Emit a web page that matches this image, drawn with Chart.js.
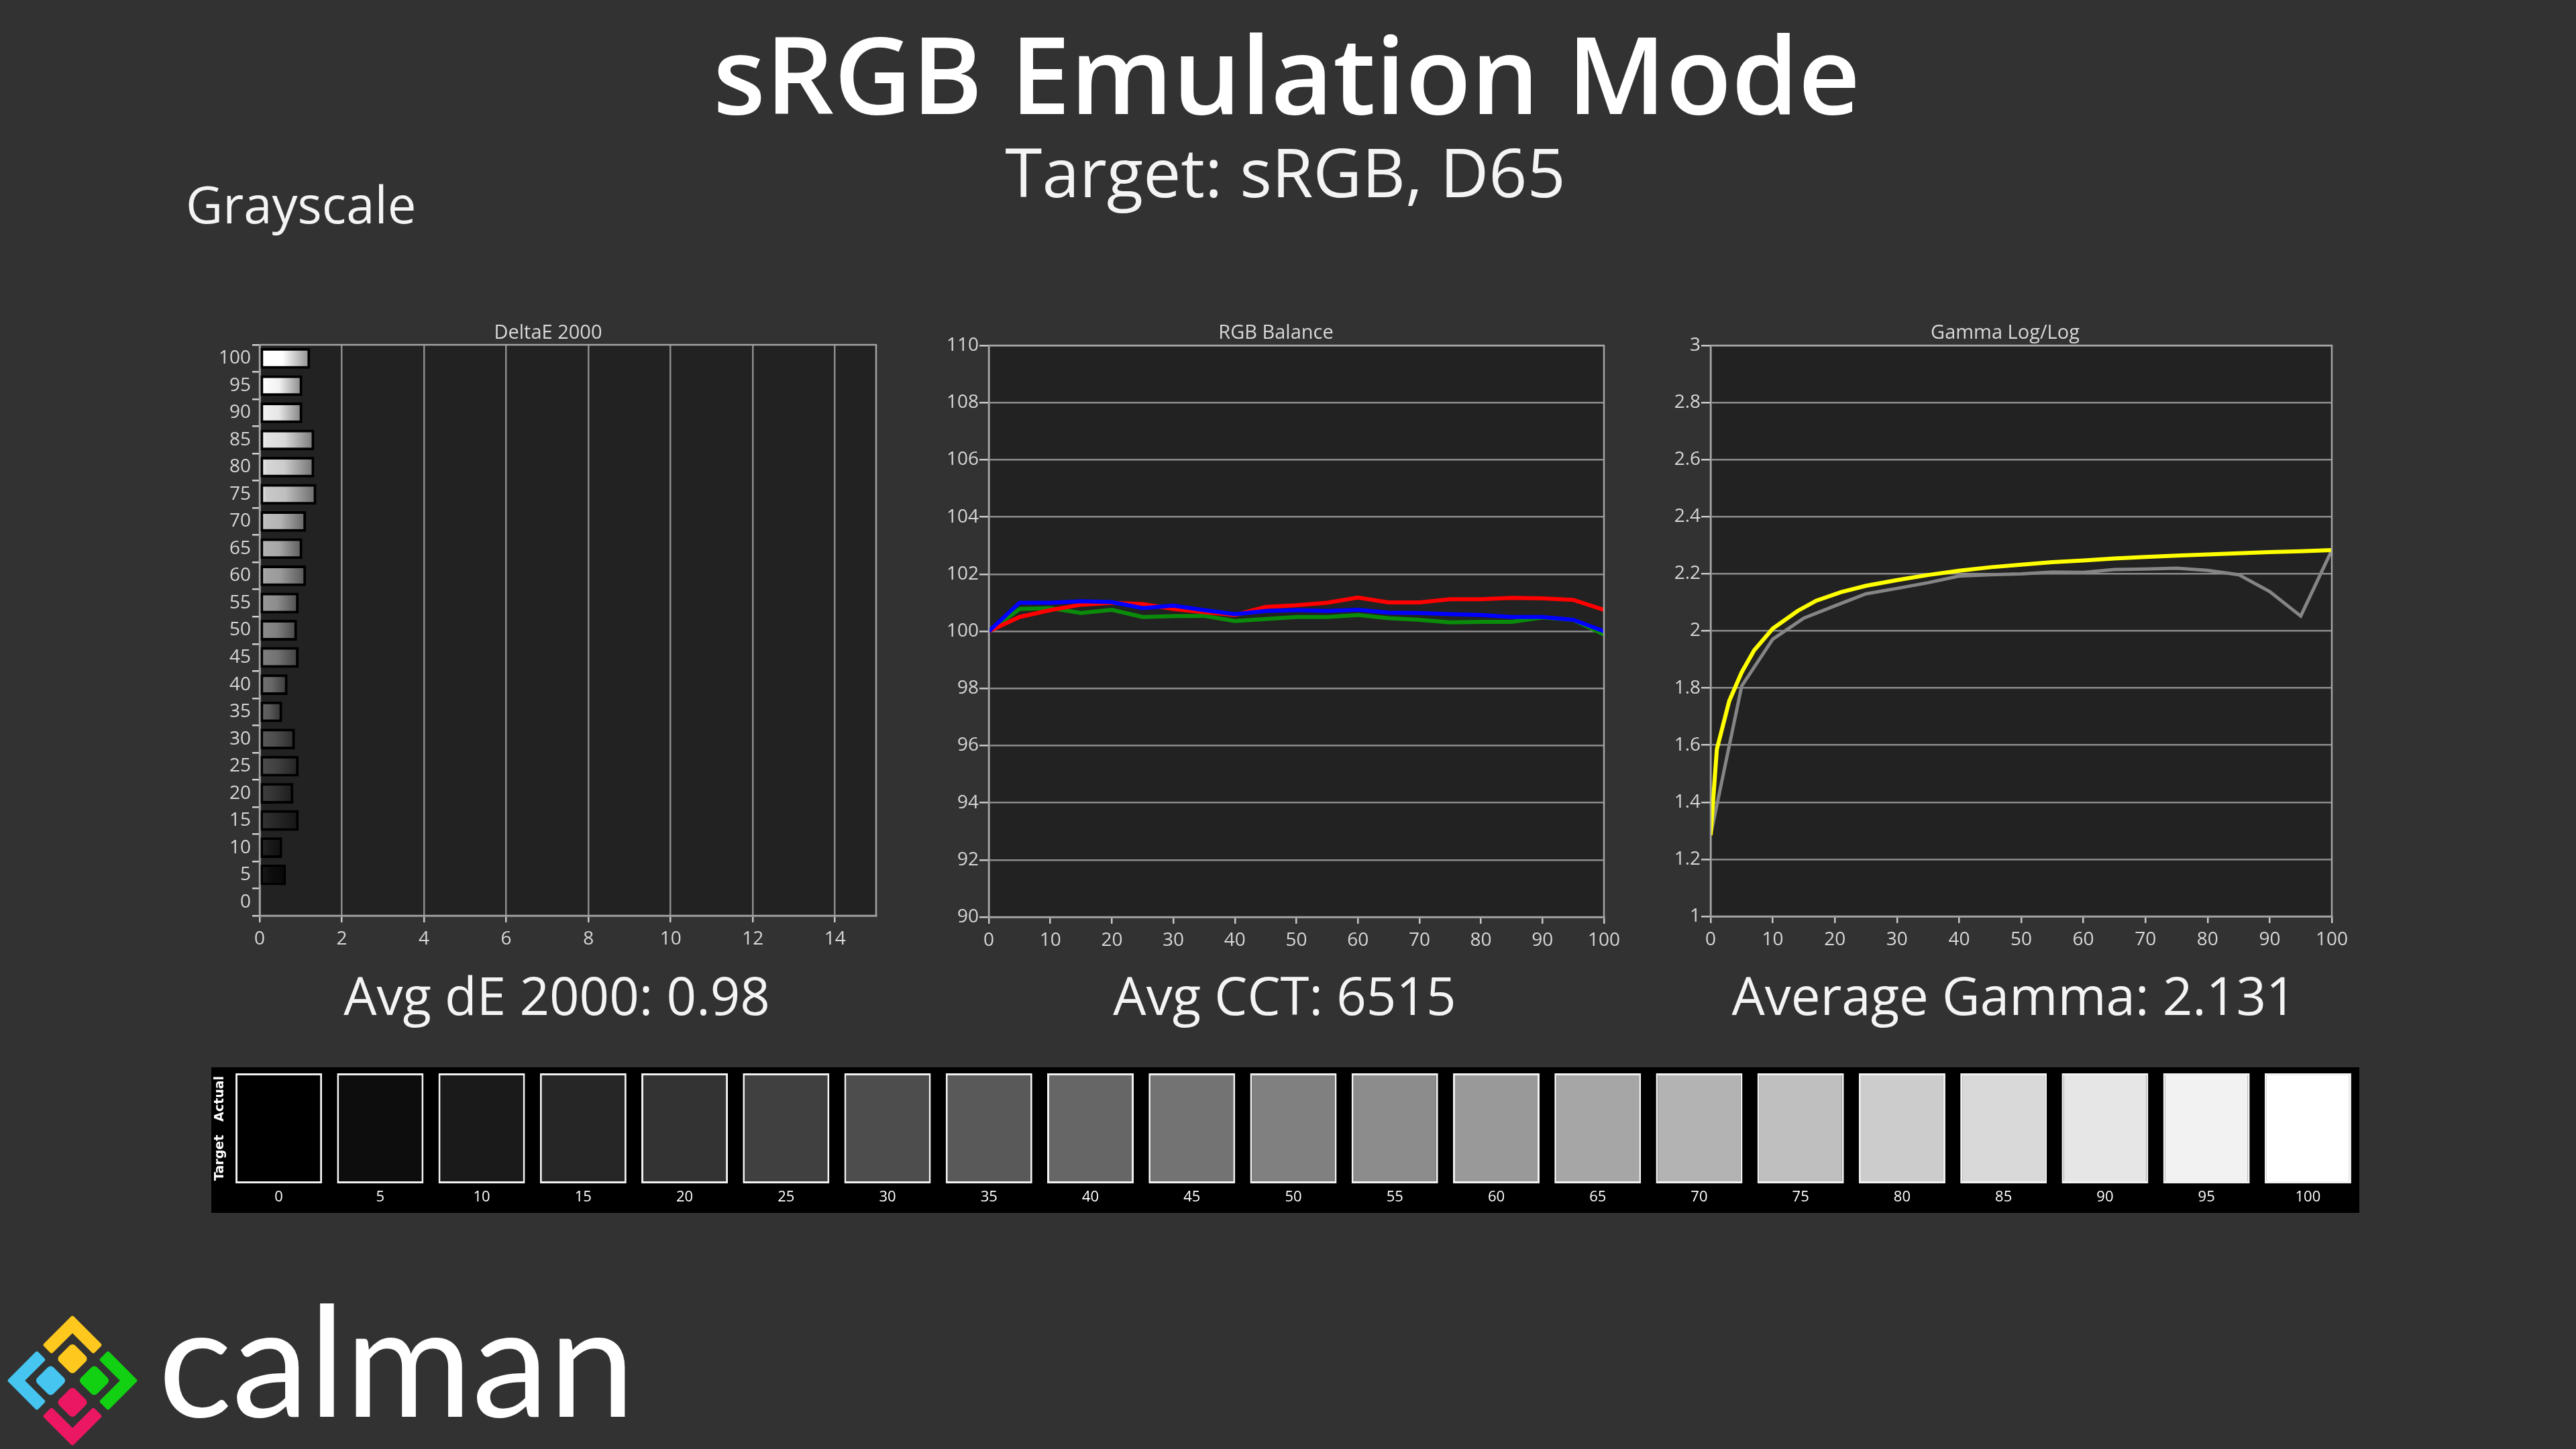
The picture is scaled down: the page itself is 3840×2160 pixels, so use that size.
<!DOCTYPE html>
<html>
<head>
<meta charset="utf-8">
<title>sRGB Emulation Mode - Grayscale</title>
<script src="https://cdn.jsdelivr.net/npm/chart.js@4.4.1/dist/chart.umd.min.js"></script>
<style>
    html, body { margin: 0; padding: 0; background: #323232; }
    body { width: 3840px; height: 2160px; position: relative; overflow: hidden; }
    .box { position: absolute; }
    #stripBox { background: #000; }
    svg.overlay { position: absolute; left: 0; top: 0; pointer-events: none; }
    svg.overlay text { font-family: 'Open Sans', sans-serif; }
</style>
</head>
<body>

<div class="box" id="deltaBox"><canvas id="deltaChart"></canvas></div>
<div class="box" id="rgbBox"><canvas id="rgbChart"></canvas></div>
<div class="box" id="gammaBox"><canvas id="gammaChart"></canvas></div>
<div class="box" id="stripBox"><canvas id="stripChart"></canvas></div>

<svg class="overlay" width="3840" height="2160">
    <text x="1918" y="170" font-size="160" font-weight="600" fill="#ffffff" text-anchor="middle">sRGB Emulation Mode</text>
    <text x="1916" y="294" font-size="100" fill="#f4f4f4" text-anchor="middle">Target: sRGB, D65</text>
    <text x="277" y="333" font-size="76" fill="#f4f4f4">Grayscale</text>

    <text x="817" y="505" font-size="29" fill="#d8d8d8" text-anchor="middle">DeltaE 2000</text>
    <text x="1902" y="505" font-size="29" fill="#d8d8d8" text-anchor="middle">RGB Balance</text>
    <text x="2989" y="505" font-size="29" fill="#d8d8d8" text-anchor="middle">Gamma Log/Log</text>

    <text x="830" y="1513" font-size="78" fill="#f4f4f4" text-anchor="middle">Avg dE 2000: 0.98</text>
    <text x="1915" y="1513" font-size="78" fill="#f4f4f4" text-anchor="middle">Avg CCT: 6515</text>
    <text x="3002" y="1513" font-size="78" fill="#f4f4f4" text-anchor="middle">Average Gamma: 2.131</text>

    <!-- calman logo -->
    <g transform="translate(108,2058) rotate(45)" stroke-width="6" stroke-linejoin="round">
        <path d="M -66,-66 L -9,-66 L -9,-53 L -53,-53 L -53,-9 L -66,-9 Z" fill="#ffc81e" stroke="#ffc81e"/>
        <path d="M -66,66 L -66,9 L -53,9 L -53,53 L -9,53 L -9,66 Z" fill="#45c5f0" stroke="#45c5f0"/>
        <path d="M 66,-66 L 66,-9 L 53,-9 L 53,-53 L 9,-53 L 9,-66 Z" fill="#12d012" stroke="#12d012"/>
        <path d="M 66,66 L 9,66 L 9,53 L 53,53 L 53,9 L 66,9 Z" fill="#ec1763" stroke="#ec1763"/>
        <rect x="-40" y="-40" width="34" height="34" rx="6" fill="#ffc81e"/>
        <rect x="-40" y="6" width="34" height="34" rx="6" fill="#45c5f0"/>
        <rect x="6" y="-40" width="34" height="34" rx="6" fill="#12d012"/>
        <rect x="6" y="6" width="34" height="34" rx="6" fill="#ec1763"/>
    </g>
    <text x="236" y="2112" font-size="230" fill="#ffffff" style="font-family: Lato, sans-serif;">calman</text>
</svg>

<script>
// stimulus levels (% grey)
const levels = [0, 5, 10, 15, 20, 25, 30, 35, 40, 45, 50, 55, 60, 65, 70, 75, 80, 85, 90, 95, 100];
const levelLabels = ['0', '5', '10', '15', '20', '25', '30', '35', '40', '45', '50', '55', '60', '65', '70', '75', '80', '85', '90', '95', '100'];

// DeltaE 2000 per level
const deltaE = [0, 0.64, 0.55, 0.95, 0.82, 0.95, 0.86, 0.55, 0.68, 0.95, 0.91, 0.95, 1.13, 1.04, 1.13, 1.38, 1.33, 1.33, 1.04, 1.04, 1.23];

// RGB balance per level
const redBalance = [100, 100.5, 100.74, 100.93, 101.0, 100.95, 100.78, 100.67, 100.57, 100.85, 100.91, 101.0, 101.18, 101.01, 101.01, 101.12, 101.12, 101.17, 101.15, 101.1, 100.75];
const greenBalance = [100, 100.78, 100.81, 100.64, 100.75, 100.5, 100.53, 100.54, 100.36, 100.43, 100.5, 100.5, 100.57, 100.46, 100.4, 100.31, 100.33, 100.33, 100.48, 100.4, 99.89];
const blueBalance = [100, 101.0, 101.0, 101.05, 101.02, 100.81, 100.9, 100.74, 100.6, 100.71, 100.74, 100.71, 100.75, 100.65, 100.64, 100.6, 100.57, 100.5, 100.5, 100.4, 100.0];

// measured gamma per level
const gammaActual = [1.285, 1.807, 1.971, 2.045, 2.088, 2.13, 2.149, 2.169, 2.192, 2.197, 2.2, 2.206, 2.205, 2.215, 2.217, 2.22, 2.212, 2.197, 2.138, 2.052, 2.283];

// target (sRGB) gamma curve
const gammaTargetX = [0, 1, 3, 5, 7, 10, 14, 17, 21, 25, 30, 35, 40, 45, 50, 55, 60, 65, 70, 75, 80, 85, 90, 95, 100];
const gammaTargetY = [1.284, 1.585, 1.755, 1.855, 1.932, 2.008, 2.07, 2.106, 2.136, 2.158, 2.178, 2.196, 2.211, 2.223, 2.232, 2.241, 2.247, 2.254, 2.259, 2.264, 2.268, 2.272, 2.276, 2.279, 2.283];

// swatch grey values (0-255) and swatch heights
const swatchGray = [0, 13, 26, 38, 51, 64, 77, 89, 102, 115, 128, 140, 153, 166, 179, 191, 204, 217, 230, 242, 255];
const swatchValue = [1, 1, 1, 1, 1, 1, 1, 1, 1, 1, 1, 1, 1, 1, 1, 1, 1, 1, 1, 1, 1];

// tick settings
const deltaTicks = { min: 0, max: 15, step: 2 };
const rgbTicks = { min: 90, max: 110, step: 2 };
const gammaTicks = { min: 1, max: 3, step: 0.2 };

Chart.defaults.font.family = "'Open Sans', sans-serif";
Chart.defaults.font.size = 28;
Chart.defaults.color = '#d6d6d6';
Chart.defaults.animation = false;

const GRID = '#8c8c8c';
const TICK = '#c8c8c8';
const PAD = { left: 8, top: 30, right: 40, bottom: 6 };
const Y_W = 62;
const X_H = 60;

function placeBox(id, left, top, right, bottom) {
    const el = document.getElementById(id);
    el.style.left = (left - Y_W - PAD.left) + 'px';
    el.style.top = (top - PAD.top) + 'px';
    el.style.width = (right - left + Y_W + PAD.left + PAD.right) + 'px';
    el.style.height = (bottom - top + X_H + PAD.top + PAD.bottom) + 'px';
}

placeBox('deltaBox', 387, 514, 1306, 1365);
placeBox('rgbBox', 1474, 515, 2391, 1367);
placeBox('gammaBox', 2550, 515, 3476, 1366);

const strip = document.getElementById('stripBox');
strip.style.left = '315px';
strip.style.top = '1591px';
strip.style.width = '3202px';
strip.style.height = '217px';

function grey(v) {
    v = Math.max(0, Math.min(255, Math.round(v)));
    return `rgb(${v},${v},${v})`;
}

// dark plot background and frame
const plotFrame = {
    id: 'plotFrame',
    beforeDraw(chart) {
        const a = chart.chartArea;
        const c = chart.ctx;
        c.save();
        c.fillStyle = '#222222';
        c.fillRect(a.left, a.top, a.right - a.left, a.bottom - a.top);
        c.restore();
    },
    afterDraw(chart) {
        const a = chart.chartArea;
        const c = chart.ctx;
        c.save();
        c.strokeStyle = '#a4a4a4';
        c.lineWidth = 2.5;
        c.strokeRect(a.left, a.top, a.right - a.left, a.bottom - a.top);
        c.restore();
    }
};

const fixY = { afterFit: scale => { scale.width = Y_W; } };
const fixX = { afterFit: scale => { scale.height = X_H; } };

function barFill(ctx) {
    const chart = ctx.chart;
    const i = ctx.dataIndex;
    const g = swatchGray[i];
    if (!chart.chartArea || !chart.scales.x) return grey(g);
    const x0 = chart.scales.x.getPixelForValue(0);
    const x1 = chart.scales.x.getPixelForValue(deltaE[i]);
    if (x1 - x0 < 2) return grey(g);
    const grad = chart.ctx.createLinearGradient(x0, 0, x1, 0);
    grad.addColorStop(0, grey(g + 55));
    grad.addColorStop(0.12, grey(g + 10));
    grad.addColorStop(0.45, grey(g));
    grad.addColorStop(1, grey(g * 0.55));
    return grad;
}

new Chart(document.getElementById('deltaChart'), {
    type: 'bar',
    data: {
        labels: levelLabels,
        datasets: [{
            label: 'DeltaE 2000',
            data: deltaE,
            backgroundColor: barFill,
            borderColor: '#000000',
            borderWidth: 4,
            borderSkipped: false,
            barPercentage: 0.76,
            categoryPercentage: 1
        }]
    },
    options: {
        indexAxis: 'y',
        responsive: true,
        maintainAspectRatio: false,
        layout: { padding: PAD },
        plugins: { legend: { display: false }, tooltip: { enabled: false } },
        scales: {
            x: Object.assign({
                type: 'linear',
                min: deltaTicks.min,
                max: deltaTicks.max,
                ticks: { stepSize: deltaTicks.step, includeBounds: false, padding: 8 },
                grid: { color: GRID, lineWidth: 2.5, tickLength: 10, tickColor: TICK },
                border: { color: '#a4a4a4', width: 2.5 }
            }, fixX),
            y: Object.assign({
                reverse: true,
                ticks: { autoSkip: false, padding: 2 },
                grid: { offset: true, drawOnChartArea: false, tickLength: 11, color: '#d0d0d0', lineWidth: 2.5 },
                border: { color: '#b4b4b4', width: 2.5 }
            }, fixY)
        }
    },
    plugins: [plotFrame]
});

function points(xs, ys) {
    return xs.map((x, i) => ({ x: x, y: ys[i] }));
}

new Chart(document.getElementById('rgbChart'), {
    type: 'line',
    data: {
        datasets: [
            { label: 'Red', data: points(levels, redBalance), borderColor: '#ff0000', order: 1 },
            { label: 'Green', data: points(levels, greenBalance), borderColor: '#0a8c0a', order: 2 },
            { label: 'Blue', data: points(levels, blueBalance), borderColor: '#0000ff', order: 0 }
        ]
    },
    options: {
        responsive: true,
        maintainAspectRatio: false,
        layout: { padding: PAD },
        elements: { line: { borderWidth: 6, tension: 0 }, point: { radius: 0 } },
        plugins: { legend: { display: false }, tooltip: { enabled: false } },
        scales: {
            x: Object.assign({
                type: 'linear',
                min: 0,
                max: 100,
                ticks: { stepSize: 10, padding: 8 },
                grid: { drawOnChartArea: false, tickLength: 10, color: GRID, tickColor: TICK, lineWidth: 2.5 },
                border: { color: '#a4a4a4', width: 2.5 }
            }, fixX),
            y: Object.assign({
                type: 'linear',
                min: rgbTicks.min,
                max: rgbTicks.max,
                ticks: { stepSize: rgbTicks.step, padding: 1 },
                grid: { color: GRID, lineWidth: 2.5, tickLength: 14, tickColor: TICK },
                border: { color: '#a4a4a4', width: 2.5 }
            }, fixY)
        }
    },
    plugins: [plotFrame]
});

new Chart(document.getElementById('gammaChart'), {
    type: 'line',
    data: {
        datasets: [
            { label: 'Target', data: points(gammaTargetX, gammaTargetY), borderColor: '#ffff00', borderWidth: 6, order: 0 },
            { label: 'Actual', data: points(levels, gammaActual), borderColor: '#858585', borderWidth: 5, order: 1 }
        ]
    },
    options: {
        responsive: true,
        maintainAspectRatio: false,
        layout: { padding: PAD },
        elements: { line: { tension: 0 }, point: { radius: 0 } },
        plugins: { legend: { display: false }, tooltip: { enabled: false } },
        scales: {
            x: Object.assign({
                type: 'linear',
                min: 0,
                max: 100,
                ticks: { stepSize: 10, padding: 8 },
                grid: { drawOnChartArea: false, tickLength: 10, color: GRID, tickColor: TICK, lineWidth: 2.5 },
                border: { color: '#a4a4a4', width: 2.5 }
            }, fixX),
            y: Object.assign({
                type: 'linear',
                min: gammaTicks.min,
                max: gammaTicks.max,
                ticks: { stepSize: gammaTicks.step, padding: 1, callback: v => String(+v.toFixed(1)) },
                grid: { color: GRID, lineWidth: 2.5, tickLength: 14, tickColor: TICK },
                border: { color: '#a4a4a4', width: 2.5 }
            }, fixY)
        }
    },
    plugins: [plotFrame]
});

// grey swatch strip
new Chart(document.getElementById('stripChart'), {
    type: 'bar',
    data: {
        labels: levelLabels,
        datasets: [{
            label: 'Swatch',
            data: swatchValue,
            backgroundColor: swatchGray.map(grey),
            borderColor: '#f2f2f2',
            borderWidth: 3,
            borderSkipped: false,
            barPercentage: 0.853,
            categoryPercentage: 1
        }]
    },
    options: {
        responsive: true,
        maintainAspectRatio: false,
        layout: { padding: { left: 0, top: 9, right: 1, bottom: 0 } },
        plugins: { legend: { display: false }, tooltip: { enabled: false } },
        scales: {
            x: {
                ticks: { color: '#ffffff', font: { size: 22 }, padding: 8 },
                grid: { display: false, drawTicks: false },
                border: { display: false },
                afterFit: scale => { scale.height = 44; }
            },
            y: {
                min: 0,
                max: 1,
                ticks: { display: false },
                grid: { display: false, drawTicks: false },
                border: { display: false },
                title: {
                    display: true,
                    text: 'Target   Actual',
                    color: '#ffffff',
                    font: { family: "'DejaVu Sans', sans-serif", size: 19, weight: 'bold' },
                    padding: { top: 2, bottom: 0 }
                },
                afterFit: scale => { scale.width = 25; }
            }
        }
    }
});
</script>
</body>
</html>
